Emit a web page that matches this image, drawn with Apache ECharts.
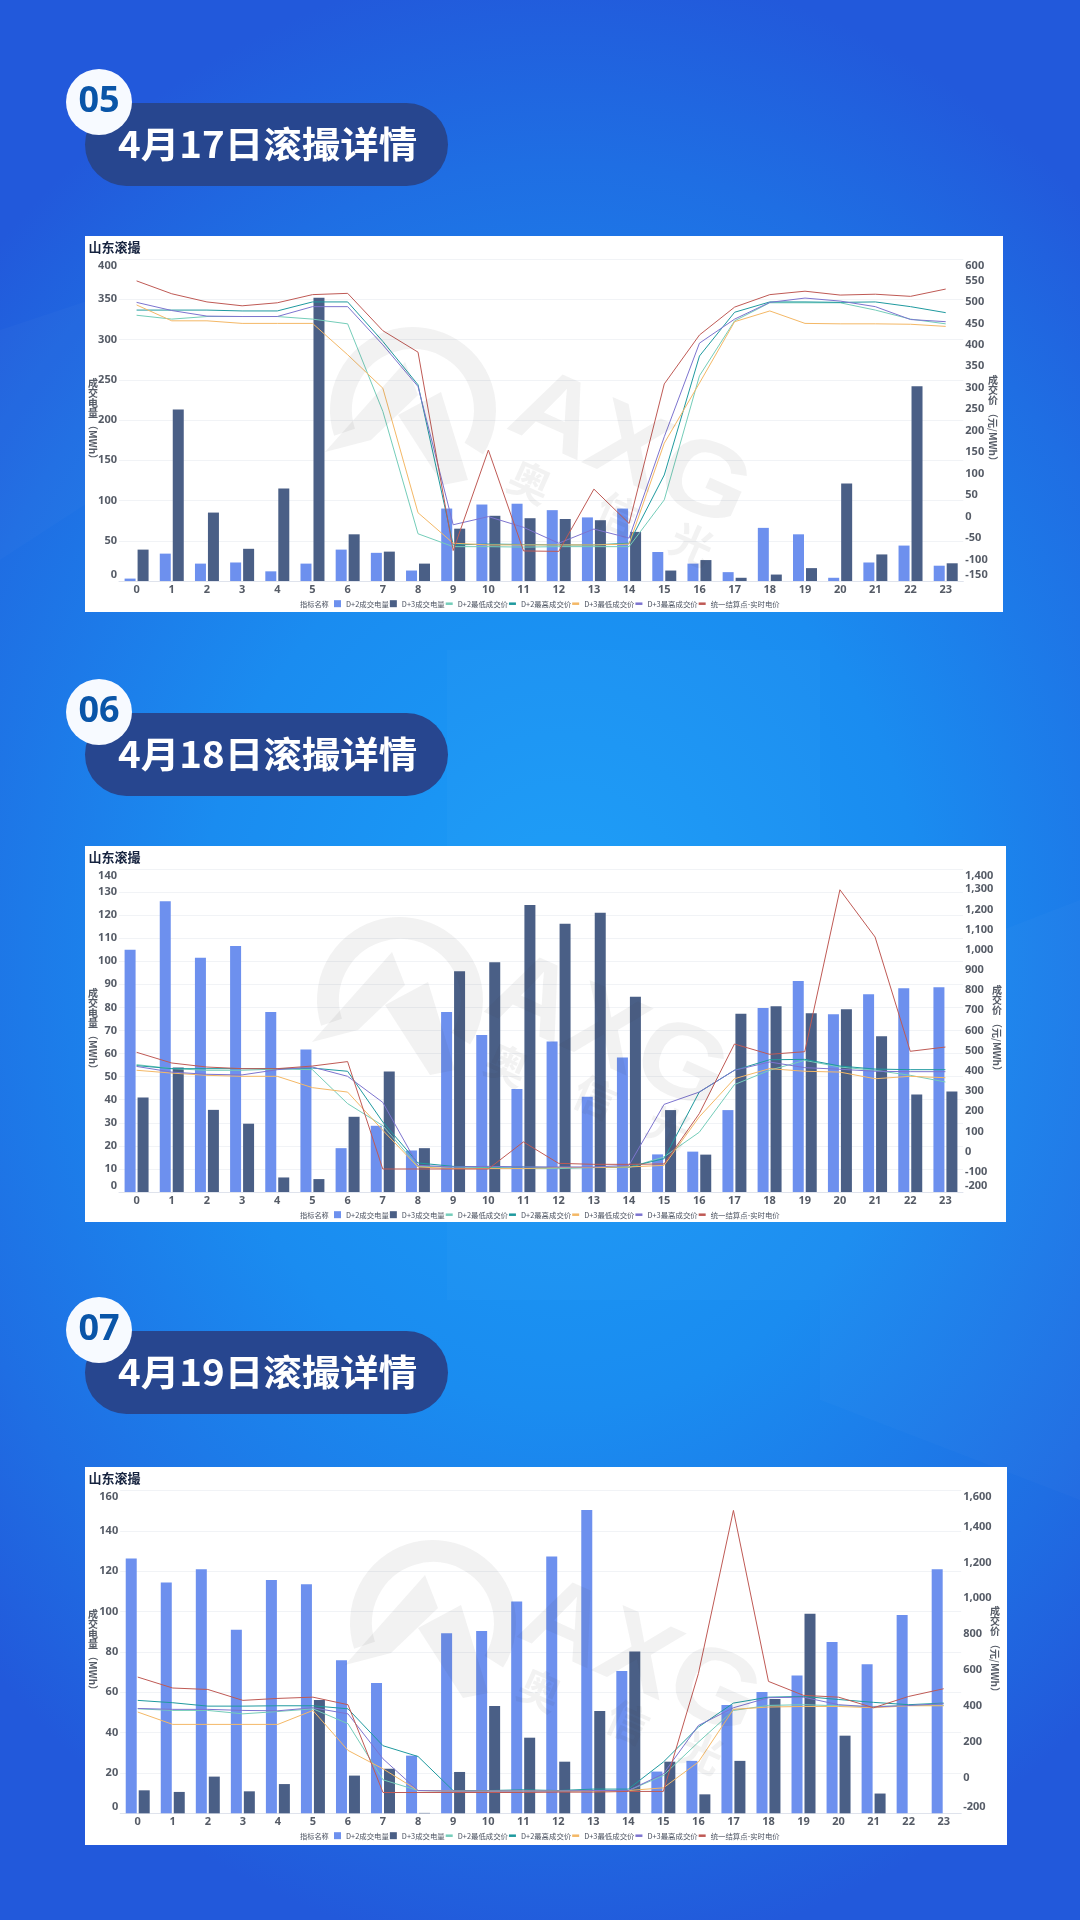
<!DOCTYPE html>
<html><head><meta charset="utf-8">
<style>
html,body{margin:0;padding:0;width:1080px;height:1920px;overflow:hidden}
body{background:radial-gradient(ellipse 75% 52% at 52% 50%,#1a9ef8 0%,#1a8cf0 45%,#1f6ee3 80%,#2259db 100%)}
#c{width:1080px;height:1920px}
</style>
<script src="https://cdn.jsdelivr.net/npm/echarts@6/dist/echarts.min.js"></script>
</head><body><div id="c"></div>
<script>
const hours=['0','1','2','3','4','5','6','7','8','9','10','11','12','13','14','15','16','17','18','19','20','21','22','23'];
const seriesNames=['D+2成交电量','D+3成交电量','D+2最低成交价','D+2最高成交价','D+3最低成交价','D+3最高成交价','统一结算点-实时电价'];

// 4月17日
const a17_d2Vol=[3,34,21.6,23,12,21.6,39,35,13,90,95,96,88,79,90,36,21.6,11,66,58,4,23,44,19];
const a17_d3Vol=[39,213,85,40,115,352,58,36.5,21.6,65,81,78,77,75.5,61,13,26,4,8,16,121,33,242,22];
const a17_d2Low=[469,460,466,466,466,460,449,245,-40,-70,-70,-71,-70,-70,-70,39,328,456,498,498,498,481,460,449];
const a17_d2High=[481,481,481,479,479,500,500,408,307,-66,-64,-65,-66,-66,-62,97,374,476,500,500,499,500,489,475];
const a17_d3Low=[493,456,456,450,450,450,377,299,9,-62,-66,-66,-66,-66,-64,171,311,454,479,450,449,449,448,443];
const a17_d3High=[499,480,467,466,466,489,489,400,303,-19,0,-25,-62,-29,-50,186,404,460,499,509,502,489,459,454];
const a17_rt=[549,519,500,491,498,517,520,433,383,-79,155,-80,-81,64,-16,309,423,488,517,525,516,518,513,530];

// 4月18日
const a18_d2Vol=[105,126,101.5,106.6,78,61.8,19,28.7,18,78,68,44.6,65.2,41.3,58.3,16.3,17.5,35.5,79.8,91.5,77,85.7,88.3,88.7];
const a18_d3Vol=[41,54,35.6,29.6,6.3,5.6,32.6,52.2,19,95.7,99.6,124.4,116.3,121,84.6,35.5,16.2,77.3,80.5,77.5,79.2,67.5,42.3,43.6];
const a18_d2Low=[431,411,403,403,409,406,238,129,-73,-76,-79,-84,-84,-79,-79,-26,96,332,403,452,419,403,378,345];
const a18_d2High=[426,411,411,411,411,414,398,147,-56,-73,-76,-76,-79,-79,-76,-35,295,403,455,457,424,409,406,406];
const a18_d3Low=[403,389,378,373,373,317,295,106,-76,-84,-84,-84,-79,-79,-76,-68,172,361,411,398,394,361,373,366];
const a18_d3High=[422,394,383,380,406,419,373,244,-68,-76,-73,-76,-76,-76,-68,234,295,403,444,416,408,398,396,396];
const a18_rt=[492,439,419,411,411,424,446,-86,-86,-86,-86,48,-58,-63,-63,-61,188,533,482,495,1297,1063,497,518];

// 4月19日
const a19_d2Vol=[126.4,114.5,121,91,115.7,113.6,75.9,64.6,28.6,89.3,90.4,105,127.4,150.4,70.6,20.7,26,53.7,60.2,68.4,85,73.9,98.3,121];
const a19_d3Vol=[11.4,10.6,18.2,10.9,14.5,56.2,18.7,22.1,0.2,20.5,53.2,37.5,25.6,50.7,80.3,25.6,9.4,26,56.7,99,38.5,9.8,0,0];
const a19_d2Low=[383,374,374,355,368,383,300,-13,-73,-76,-76,-76,-76,-73,-73,11,197,374,402,406,400,396,402,402];
const a19_d2High=[430,417,398,398,400,400,383,177,117,-73,-73,-69,-73,-65,-65,86,281,415,448,452,435,419,406,415];
const a19_d3Low=[365,296,296,296,296,374,151,48,-73,-76,-76,-76,-76,-76,-73,-58,86,380,393,396,396,389,400,400];
const a19_d3High=[385,380,380,374,372,389,355,104,-73,-76,-76,-76,-76,-73,-73,20,290,389,445,448,406,393,402,411];
const a19_rt=[560,499,491,430,441,448,406,-84,-84,-84,-84,-84,-82,-82,-78,-78,579,1490,536,458,448,389,452,495];

const colors=['#6d90ee','#4a5f86','#74cdb9','#1f9a9f','#f4b866','#7d74cf','#bf5a55'];
const FONT='"Noto Sans CJK SC","Noto Sans",sans-serif';
const LABEL='#555b66';

const charts=[
 {vals:[a17_d2Vol,a17_d3Vol,a17_d2Low,a17_d2High,a17_d3Low,a17_d3High,a17_rt],
  left:[0,400,50],right:[-150,600,50],grid:[119,963.3,259,581],panel:[85,236,918,376],rOff:10,
  head:[103,'05','4月17日滚撮详情'],legendY:604,wm:[413,410,630,452]},
 {vals:[a18_d2Vol,a18_d3Vol,a18_d2Low,a18_d2High,a18_d3Low,a18_d3High,a18_rt],
  left:[0,140,10],right:[-200,1400,100],grid:[119,963,869,1192],panel:[85,846,921,376],rOff:9,
  head:[713,'06','4月18日滚撮详情'],legendY:1215,wm:[400,1000,607,1035]},
 {vals:[a19_d2Vol,a19_d3Vol,a19_d2Low,a19_d2High,a19_d3Low,a19_d3High,a19_rt],
  left:[0,160,20],right:[-200,1600,200],grid:[120.2,961.2,1490.7,1813.3],panel:[85,1467,922,378],rOff:12,
  head:[1331,'07','4月19日滚撮详情'],legendY:1836,wm:[433,1623,640,1660]}
];

const grid=[],xAxis=[],yAxis=[],series=[],legend=[],title=[],graphic=[];
const lineIcon='path://M0 0L0 0M100 100L100 100M0 32H100V68H0Z';
// faint background facets
[[[447,650],[820,650],[820,1300],[447,1300]],[[0,330],[90,300],[200,430],[0,560]],[[820,1000],[1080,900],[1080,1500],[820,1400]]].forEach(p=>{
  graphic.push({type:'polygon',silent:true,z:-20,shape:{points:p},style:{fill:'rgba(255,255,255,0.018)'}});
});
charts.forEach((c,i)=>{
  const [gl,gr,gt,gb]=c.grid;
  grid.push({left:gl,width:gr-gl,top:gt,height:gb-gt,containLabel:false});
  xAxis.push({type:'category',gridIndex:i,data:hours,boundaryGap:true,
    axisTick:{show:false},axisLine:{lineStyle:{color:'#dfe3ec',width:1}},
    axisLabel:{color:LABEL,fontSize:11,fontWeight:'bold',fontFamily:'"Noto Sans",sans-serif',margin:3,interval:0},
    splitLine:{show:false}});
  const yl={color:LABEL,fontSize:11,lineHeight:13,fontWeight:'bold',fontFamily:'"Noto Sans",sans-serif',margin:2,
    showMinLabel:true,showMaxLabel:true,
    verticalAlignMinLabel:'bottom',verticalAlignMaxLabel:'top',hideOverlap:false};
  yAxis.push({type:'value',gridIndex:i,position:'left',min:c.left[0],max:c.left[1],interval:c.left[2],
    axisLine:{show:false},axisTick:{show:false},axisLabel:yl,
    splitLine:{show:true,lineStyle:{color:'#f1f3f6',width:1}}});
  yAxis.push({type:'value',gridIndex:i,position:'right',min:c.right[0],max:c.right[1],interval:c.right[2],
    axisLine:{show:false},axisTick:{show:false},axisLabel:yl,splitLine:{show:false}});
  c.vals.forEach((v,k)=>{
    if(k<2){
      series.push({name:seriesNames[k],type:'bar',xAxisIndex:i,yAxisIndex:i*2,data:v,
        barWidth:11,barGap:'18%',itemStyle:{color:colors[k]},z:2,animation:false});
    }else{
      series.push({name:seriesNames[k],type:'line',xAxisIndex:i,yAxisIndex:i*2+1,data:v,
        showSymbol:false,symbol:'none',lineStyle:{color:colors[k],width:1},itemStyle:{color:colors[k]},z:3,animation:false});
    }
  });
  legend.push({left:334,top:c.legendY-4,padding:0,orient:'horizontal',selectedMode:false,itemWidth:7,itemHeight:7,itemGap:1,
    textStyle:{fontSize:7.4,color:'#4b5260',fontFamily:FONT},
    data:seriesNames.map((n,k)=>({name:n,icon:k<2?'rect':lineIcon}))});
  const [px,py,pw,ph]=c.panel;
  title.push({text:'山东滚撮',left:px+3.5,top:py+4.5,padding:0,textStyle:{fontSize:13,fontWeight:'bold',color:'#16233f',fontFamily:FONT}});
  graphic.push({type:'rect',silent:true,z:-10,shape:{x:px,y:py,width:pw,height:ph},style:{fill:'#ffffff'}});

  // header
  const [hy,num,txt]=c.head;
  graphic.push({type:'rect',silent:true,z:5,shape:{x:85,y:hy,width:363,height:83,r:41.5},style:{fill:'#27468f'}});
  graphic.push({type:'circle',silent:true,z:6,shape:{cx:99,cy:hy-1,r:33},style:{fill:'#f7faff'}});
  graphic.push({type:'text',silent:true,z:7,x:99,y:hy-1,style:{text:num,fill:'#0a55a8',font:'bold 36px "Noto Sans",sans-serif',align:'center',verticalAlign:'middle'}});
  graphic.push({type:'text',silent:true,z:7,x:118,y:hy+41.5,scaleX:1.07,style:{text:txt,fill:'#ffffff',font:'bold 36px "Noto Sans CJK SC",sans-serif',align:'left',verticalAlign:'middle'}});

  // legend caption
  graphic.push({type:'text',silent:true,z:7,x:300,y:c.legendY,style:{text:'指标名称',fill:'#4b5260',font:'7.2px "Noto Sans CJK SC"',align:'left',verticalAlign:'middle'}});

  // axis names
  const nameFont='bold 10px "Noto Sans CJK SC"';
  const lx=px+8, rx=px+pw-c.rOff;
  graphic.push({type:'text',silent:true,z:7,x:lx,y:py+162,style:{text:'成\n交\n电\n量',fill:'#555b66',font:nameFont,lineHeight:10,align:'center',verticalAlign:'middle'}});
  graphic.push({type:'text',silent:true,z:7,x:lx,y:py+206,rotation:-Math.PI/2,style:{text:'（MWh）',fill:'#555b66',font:nameFont,align:'center',verticalAlign:'middle'}});
  graphic.push({type:'text',silent:true,z:7,x:rx,y:py+154,style:{text:'成\n交\n价',fill:'#555b66',font:nameFont,lineHeight:10,align:'center',verticalAlign:'middle'}});
  graphic.push({type:'text',silent:true,z:7,x:rx,y:py+201,rotation:-Math.PI/2,style:{text:'（元/MWh）',fill:'#555b66',font:nameFont,align:'center',verticalAlign:'middle'}});

  // watermark
  const [wx,wy,tx,ty]=c.wm, wc='rgba(60,60,60,0.065)';
  graphic.push({type:'arc',silent:true,z:8,shape:{cx:wx,cy:wy,r:72,startAngle:-Math.PI*1.1,endAngle:Math.PI*0.18},style:{stroke:wc,fill:null,lineWidth:22}});
  graphic.push({type:'polygon',silent:true,z:8,shape:{points:[[wx-88,wy+42],[wx-8,wy-48],[wx+5,wy-15],[wx-42,wy+30]]},style:{fill:wc}});
  graphic.push({type:'polygon',silent:true,z:8,shape:{points:[[wx-15,wy+5],[wx+28,wy-18],[wx+55,wy+70],[wx+30,wy+75]]},style:{fill:wc}});
  graphic.push({type:'text',silent:true,z:8,x:tx,y:ty,rotation:-0.42,scaleX:1.1,style:{text:'AXG',fill:wc,font:'bold 105px "Liberation Sans"',align:'center',verticalAlign:'middle'}});
  [['奥',-100,30],['信',-12,62],['光',62,92]].forEach(t=>{
    graphic.push({type:'text',silent:true,z:8,x:tx+t[1],y:ty+t[2],rotation:-0.42,style:{text:t[0],fill:wc,font:'bold 42px "Noto Sans CJK SC"',align:'center',verticalAlign:'middle'}});
  });
});
const chart=echarts.init(document.getElementById('c'),null,{renderer:'canvas'});
chart.setOption({animation:false,backgroundColor:'transparent',title,grid,xAxis,yAxis,series,legend,tooltip:{show:false},graphic:{elements:graphic}});
</script></body></html>
